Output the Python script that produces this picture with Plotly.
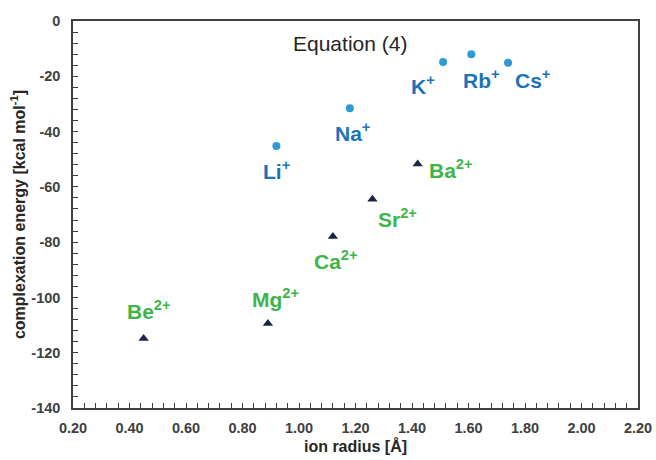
import plotly.graph_objects as go

# Data
mono_ions = ["Li<sup>+</sup>", "Na<sup>+</sup>", "K<sup>+</sup>", "Rb<sup>+</sup>", "Cs<sup>+</sup>"]
mono_radius = [0.92, 1.18, 1.51, 1.61, 1.74]
mono_energy = [-45.2, -31.6, -14.8, -12.0, -15.1]

di_ions = ["Be<sup>2+</sup>", "Mg<sup>2+</sup>", "Ca<sup>2+</sup>", "Sr<sup>2+</sup>", "Ba<sup>2+</sup>"]
di_radius = [0.45, 0.89, 1.12, 1.26, 1.42]
di_energy = [-114.9, -109.4, -78.0, -64.5, -51.7]

x_ticks = [0.2, 0.4, 0.6, 0.8, 1.0, 1.2, 1.4, 1.6, 1.8, 2.0, 2.2]
y_ticks = [0, -20, -40, -60, -80, -100, -120, -140]

# label pixel offsets (style)
mono_off = [(0, 24), (3, 24), (-20, 23), (10, 25), (24, 16)]
di_off = [(5, -29), (8, -25), (3, 23), (25, 19), (33, 5)]

BLUE_M = "#2E9AD6"
BLUE_T = "#1E72B8"
GREEN = "#3DB54A"
NAVY = "#1B2447"
FONT = "Liberation Sans, Arial, sans-serif"

fig = go.Figure()
fig.add_trace(go.Scatter(x=mono_radius, y=mono_energy, mode="markers",
                         marker=dict(symbol="circle", size=8, color=BLUE_M),
                         showlegend=False, hoverinfo="skip"))
fig.add_trace(go.Scatter(x=di_radius, y=di_energy, mode="markers",
                         marker=dict(symbol="triangle-up", size=9, color=NAVY),
                         showlegend=False, hoverinfo="skip"))

for name, xv, yv, (dx, dy) in zip(mono_ions, mono_radius, mono_energy, mono_off):
    fig.add_annotation(x=xv, y=yv, text=name, showarrow=False, xshift=dx, yshift=-dy,
                       font=dict(family=FONT, size=21, color=BLUE_T, weight="bold"),
                       xanchor="center", yanchor="middle")
for name, xv, yv, (dx, dy) in zip(di_ions, di_radius, di_energy, di_off):
    fig.add_annotation(x=xv, y=yv, text=name, showarrow=False, xshift=dx, yshift=-dy,
                       font=dict(family=FONT, size=21, color=GREEN, weight="bold"),
                       xanchor="center", yanchor="middle")

fig.add_annotation(x=1.18, y=-8, text="Equation (4)", showarrow=False,
                   font=dict(family=FONT, size=21, color="#262626"), xanchor="center", yanchor="middle")

axis_common = dict(showgrid=False, zeroline=False, showline=True, linecolor="#404040", linewidth=1.5,
                   mirror=True, ticks="inside", ticklen=5, tickcolor="#404040", tickwidth=1,
                   automargin=False,
                   tickfont=dict(family=FONT, size=14.5, color="#404040", weight="bold"))

fig.update_xaxes(range=[0.2, 2.2], tickvals=x_ticks, ticktext=[f"{v:.2f}" for v in x_ticks],
                 minor=dict(ticks="inside", dtick=0.04, ticklen=5, tickcolor="#404040", tick0=0.2),
                 ticklabelstandoff=6,
                 title=dict(text="ion radius [Å]", font=dict(family=FONT, size=16, color="#262626", weight="bold"), standoff=6),
                 **axis_common)
fig.update_yaxes(range=[-140, 0], tickvals=y_ticks, ticktext=[f"{v}" for v in y_ticks],
                 minor=dict(ticks="inside", dtick=4, ticklen=5, tickcolor="#404040", tick0=0),
                 ticklabelstandoff=8,
                 title=dict(text="complexation energy [kcal mol<sup>-1</sup>]", font=dict(family=FONT, size=16, color="#262626", weight="bold"), standoff=2),
                 **axis_common)
fig.update_layout(width=656, height=460, margin=dict(l=73, r=18, t=21, b=52),
                  plot_bgcolor="white", paper_bgcolor="white",
                  font=dict(family=FONT))

fig.write_html("out.html")
